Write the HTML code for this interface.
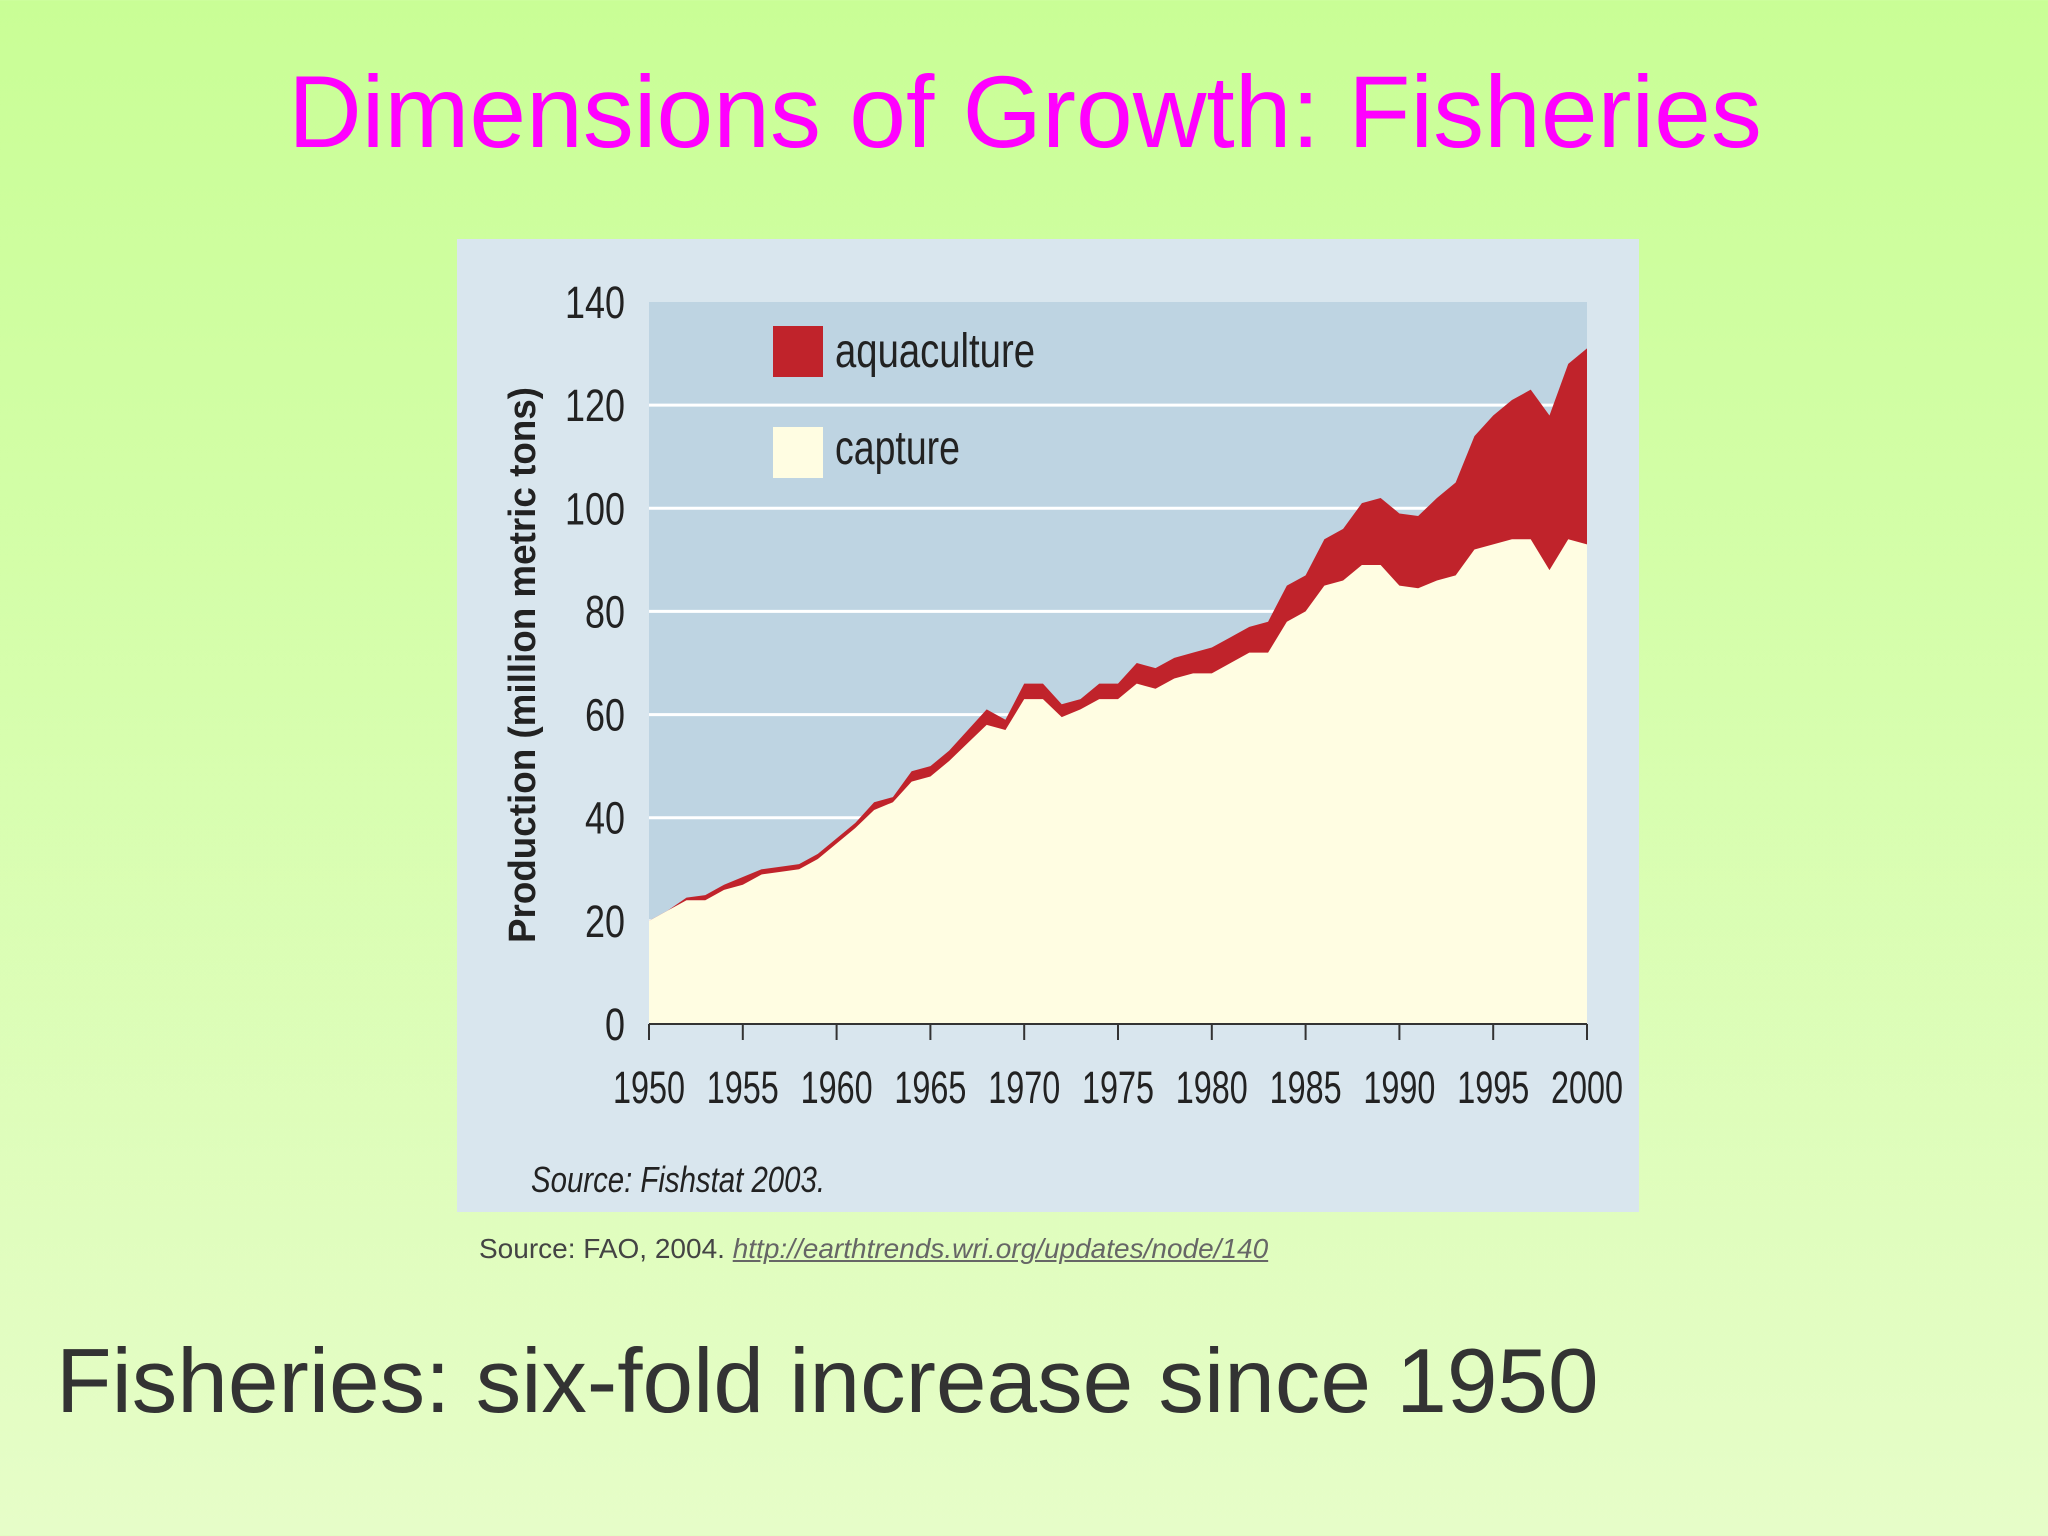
<!DOCTYPE html>
<html><head><meta charset="utf-8"><style>
html,body{margin:0;padding:0}
body{width:2048px;height:1536px;overflow:hidden;background:linear-gradient(#c9fe96,#e6fdc8);font-family:"Liberation Sans",sans-serif;position:relative}
</style></head><body>
<div style="position:absolute;left:0;width:2050px;top:52px;text-align:center;font-size:102px;color:#ff00ff;line-height:120px">Dimensions of Growth: Fisheries</div>
<svg id="chart" width="2048" height="1536" style="position:absolute;left:0;top:0">
<rect x="457" y="239" width="1182" height="973" fill="#d9e6ee"/>
<rect x="649" y="302" width="938" height="722" fill="#bed4e2"/>
<g id="grid"></g><g id="areas"></g><g id="axes"></g>
<rect x="773" y="326" width="50" height="51" fill="#c0232b"/>
<text x="835" y="367" font-size="48" fill="#222" textLength="200" lengthAdjust="spacingAndGlyphs">aquaculture</text>
<rect x="773" y="427" width="50" height="51" fill="#fffde2"/>
<text x="835" y="464" font-size="48" fill="#222" textLength="125" lengthAdjust="spacingAndGlyphs">capture</text>
<text transform="translate(535,665) rotate(-90)" text-anchor="middle" font-size="38" font-weight="bold" fill="#222" textLength="556" lengthAdjust="spacingAndGlyphs">Production (million metric tons)</text>
<text x="531" y="1192" font-size="36" font-style="italic" fill="#222" textLength="294" lengthAdjust="spacingAndGlyphs">Source: Fishstat 2003.</text>
</svg>
<div style="position:absolute;left:479px;top:1233px;font-size:28px;color:#444">Source: FAO, 2004. <span style="text-decoration:underline;font-style:italic;color:#666">http://earthtrends.wri.org/updates/node/140</span></div>
<div style="position:absolute;left:56px;top:1330px;font-size:91px;color:#333">Fisheries: six-fold increase since 1950</div>
<script>
const years=[1950,1951,1952,1953,1954,1955,1956,1957,1958,1959,1960,1961,1962,1963,1964,1965,1966,1967,1968,1969,1970,1971,1972,1973,1974,1975,1976,1977,1978,1979,1980,1981,1982,1983,1984,1985,1986,1987,1988,1989,1990,1991,1992,1993,1994,1995,1996,1997,1998,1999,2000];
const totalValues=[20,22,24.5,25,27,28.5,30,30.5,31,33,36,39,43,44,49,50,53,57,61,59,66,66,62,63,66,66,70,69,71,72,73,75,77,78,85,87,94,96,101,102,99,98.5,102,105,114,118,121,123,118,128,131];
const captureValues=[20,22,24,24,26,27,29,29.5,30,32,35,38,41.5,43,47,48,51,54.5,58,57,63,63,59.5,61,63,63,66,65,67,68,68,70,72,72,78,80,85,86,89,89,85,84.5,86,87,92,93,94,94,88,94,93];
const yTicks=[0,20,40,60,80,100,120,140];
const xTicks=[1950,1955,1960,1965,1970,1975,1980,1985,1990,1995,2000];
const NS='http://www.w3.org/2000/svg';
const X=v=>649+(v-1950)/50*938, Y=v=>1024-v/140*722;
function mk(t,a,p){const e=document.createElementNS(NS,t);for(const k in a)e.setAttribute(k,a[k]);document.getElementById(p).appendChild(e);return e;}
yTicks.forEach(t=>{if(t>0&&t<140){const l=mk('line',{x1:649,x2:1587,y1:Y(t),y2:Y(t),stroke:'#fff','stroke-width':3},'grid');

}
const s=String(t);
const tx=mk('text',{x:625,y:Y(t)+16,'text-anchor':'end','font-size':45,fill:'#222',textLength:s.length*20,lengthAdjust:'spacingAndGlyphs'},'axes');tx.textContent=s;

});
xTicks.forEach(t=>{const tk=mk('line',{x1:X(t),x2:X(t),y1:1024,y2:1040,stroke:'#333','stroke-width':2},'axes');


const tx=mk('text',{x:X(t),y:1103,'text-anchor':'middle','font-size':45,fill:'#222',textLength:72,lengthAdjust:'spacingAndGlyphs'},'axes');tx.textContent=t;

});
const ax=mk('line',{x1:649,x2:1587,y1:1024,y2:1024,stroke:'#333','stroke-width':2},'axes');


function area(vals){let d='M'+X(years[0])+','+Y(0);years.forEach((y,i)=>d+=' L'+X(y)+','+Y(vals[i]));return d+' L'+X(years[years.length-1])+','+Y(0)+'Z';}
const a1=mk('path',{d:area(totalValues),fill:'#c0232b'},'areas');


const a2=mk('path',{d:area(captureValues),fill:'#fffde2'},'areas');


</script>
</body></html>
